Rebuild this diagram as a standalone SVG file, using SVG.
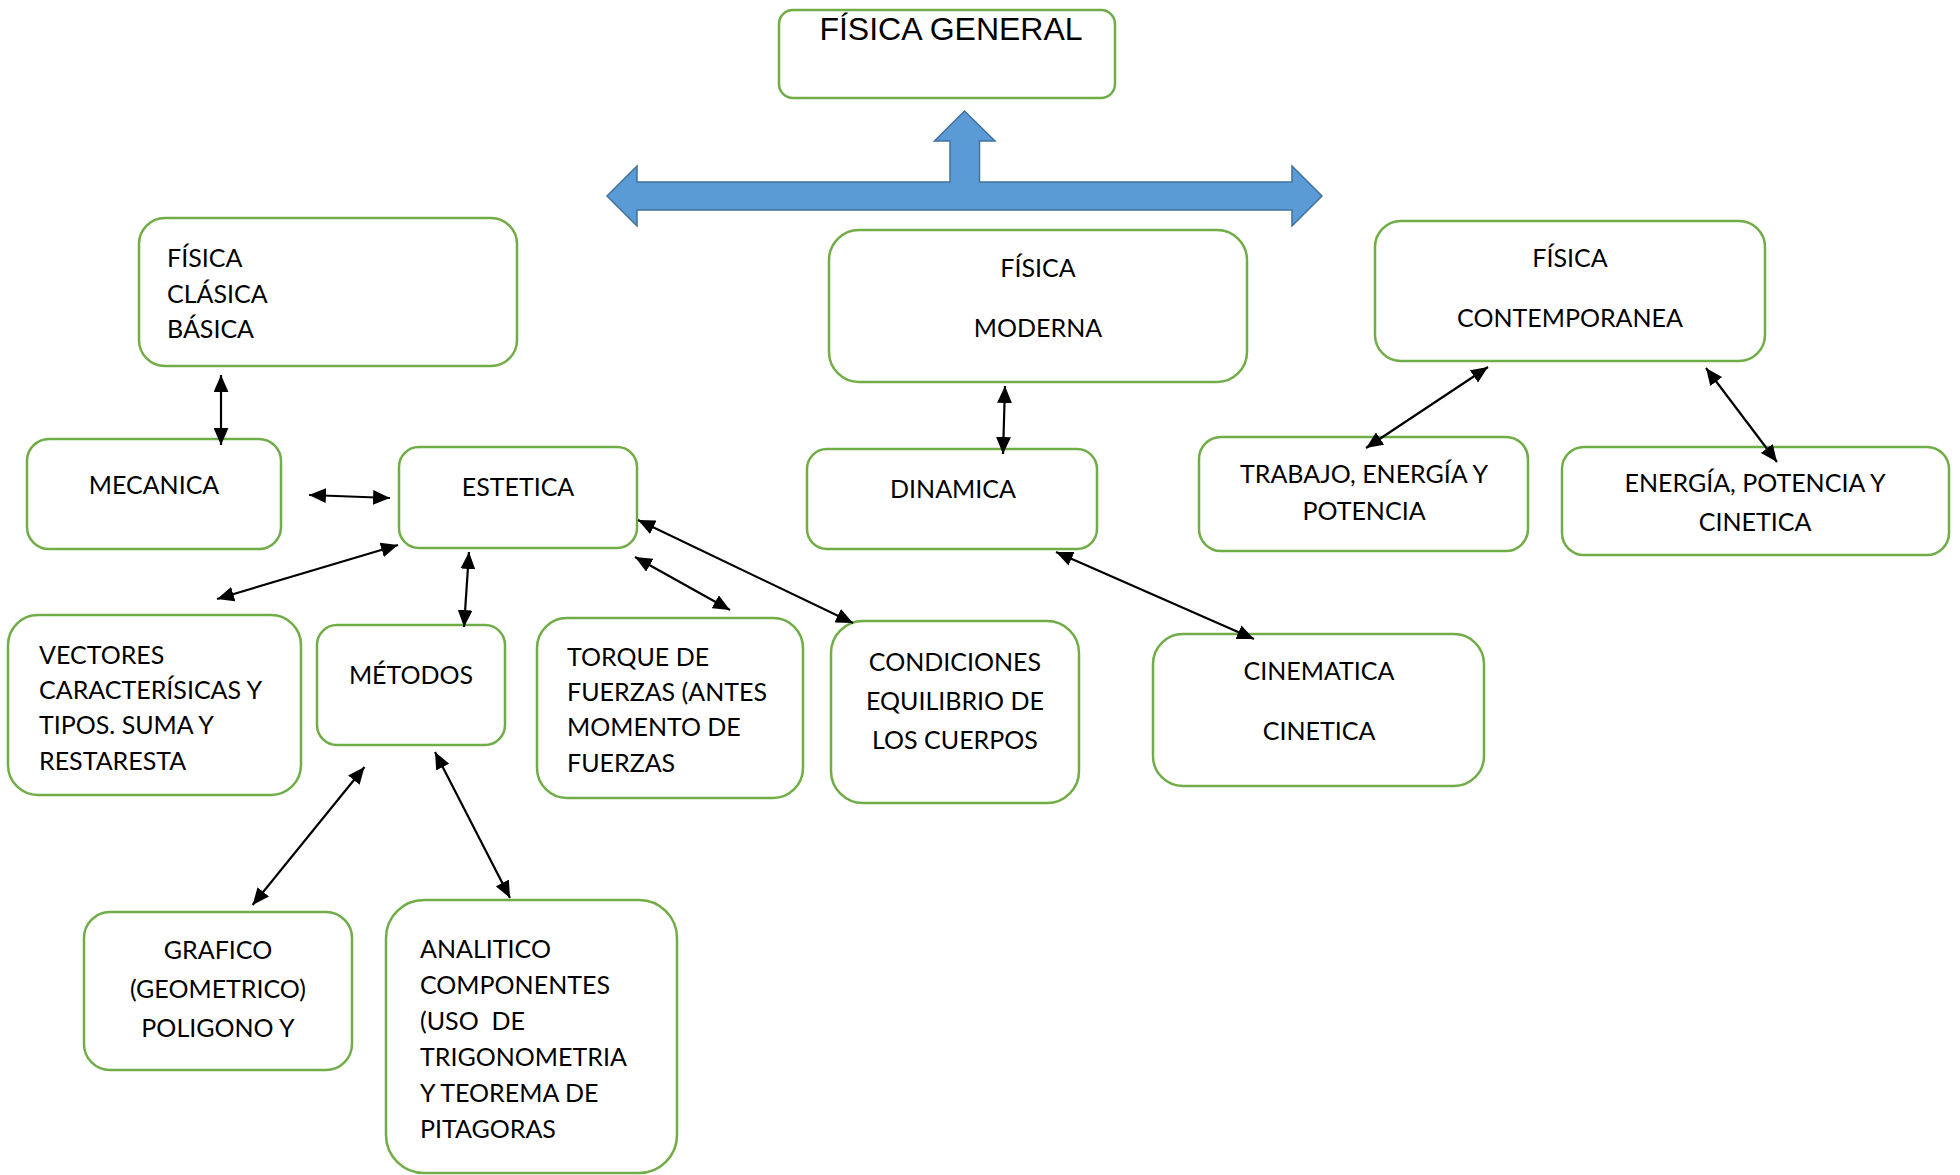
<svg xmlns="http://www.w3.org/2000/svg" width="1960" height="1175" viewBox="0 0 1960 1175">
<style>
.box{fill:#fff;stroke:#70AD47;stroke-width:2.5}
.t{font-family:Lato,"Open Sans","Liberation Sans",sans-serif;font-size:25px;fill:#000}
.m{text-anchor:middle}
.c{stroke:#000;stroke-width:2.2;fill:none;marker-start:url(#ah);marker-end:url(#ah)}
</style>
<defs>
<marker id="ah" markerUnits="userSpaceOnUse" markerWidth="18" markerHeight="15" refX="16" refY="7" orient="auto-start-reverse" viewBox="0 0 17 14">
<path d="M0,0 L16,7 L0,14 z" fill="#000"/>
</marker>
</defs>
<rect width="1960" height="1175" fill="#fff"/>

<g id="fisica-general">
<rect class="box" x="779" y="10" width="336" height="88" rx="14"/>
<text x="951" y="40" text-anchor="middle" font-family="'Liberation Sans',Arial,sans-serif" font-size="32">FÍSICA GENERAL</text>
</g>

<g id="blue-arrow">
<polygon points="607,196 637,166 637,182 950,182 950,141 934.5,141 964.5,111 995,141 979.5,141 979.5,182 1292,182 1292,166 1322,196 1292,226 1292,210 637,210 637,226" fill="#5B9BD5" stroke="#41719C" stroke-width="1.5"/>
</g>

<g id="fisica-clasica">
<rect class="box" x="139" y="218" width="378" height="148" rx="26"/>
<text class="t" x="167" y="267">FÍSICA</text>
<text class="t" x="167" y="303">CLÁSICA</text>
<text class="t" x="167" y="338">BÁSICA</text>
</g>

<g id="mecanica">
<rect class="box" x="27" y="439" width="254" height="110" rx="22"/>
<text class="t m" x="154" y="494">MECANICA</text>
</g>

<g id="estetica">
<rect class="box" x="399" y="447" width="238" height="101" rx="20"/>
<text class="t m" x="518" y="496">ESTETICA</text>
</g>

<g id="vectores">
<rect class="box" x="8" y="615" width="293" height="180" rx="30"/>
<text class="t" x="39" y="664">VECTORES</text>
<text class="t" x="39" y="699">CARACTERÍSICAS Y</text>
<text class="t" x="39" y="734">TIPOS. SUMA Y</text>
<text class="t" x="39" y="770">RESTARESTA</text>
</g>

<g id="metodos">
<rect class="box" x="317" y="625" width="188" height="120" rx="20"/>
<text class="t m" x="411" y="684">MÉTODOS</text>
</g>

<g id="torque">
<rect class="box" x="537" y="618" width="266" height="180" rx="30"/>
<text class="t" x="567" y="666">TORQUE DE</text>
<text class="t" x="567" y="701">FUERZAS (ANTES</text>
<text class="t" x="567" y="736">MOMENTO DE</text>
<text class="t" x="567" y="772">FUERZAS</text>
</g>

<g id="grafico">
<rect class="box" x="84" y="912" width="268" height="158" rx="26"/>
<text class="t m" x="218" y="959">GRAFICO</text>
<text class="t m" x="218" y="998">(GEOMETRICO)</text>
<text class="t m" x="218" y="1037">POLIGONO Y</text>
</g>

<g id="analitico">
<rect class="box" x="386" y="900" width="291" height="273" rx="38"/>
<text class="t" x="420" y="958">ANALITICO</text>
<text class="t" x="420" y="994">COMPONENTES</text>
<text class="t" x="420" y="1030" xml:space="preserve">(USO  DE</text>
<text class="t" x="420" y="1066">TRIGONOMETRIA</text>
<text class="t" x="420" y="1102">Y TEOREMA DE</text>
<text class="t" x="420" y="1138">PITAGORAS</text>
</g>

<g id="fisica-moderna">
<rect class="box" x="829" y="230" width="418" height="152" rx="30"/>
<text class="t m" x="1038" y="277">FÍSICA</text>
<text class="t m" x="1038" y="337">MODERNA</text>
</g>

<g id="dinamica">
<rect class="box" x="807" y="449" width="290" height="100" rx="20"/>
<text class="t m" x="953" y="498">DINAMICA</text>
</g>

<g id="condiciones">
<rect class="box" x="831" y="621" width="248" height="182" rx="32"/>
<text class="t m" x="955" y="671">CONDICIONES</text>
<text class="t m" x="955" y="710">EQUILIBRIO DE</text>
<text class="t m" x="955" y="749">LOS CUERPOS</text>
</g>

<g id="cinematica">
<rect class="box" x="1153" y="634" width="331" height="152" rx="30"/>
<text class="t m" x="1319" y="680">CINEMATICA</text>
<text class="t m" x="1319" y="740">CINETICA</text>
</g>

<g id="fisica-contemporanea">
<rect class="box" x="1375" y="221" width="390" height="140" rx="26"/>
<text class="t m" x="1570" y="267">FÍSICA</text>
<text class="t m" x="1570" y="327">CONTEMPORANEA</text>
</g>

<g id="trabajo">
<rect class="box" x="1199" y="437" width="329" height="114" rx="22"/>
<text class="t m" x="1364" y="483">TRABAJO, ENERGÍA Y</text>
<text class="t m" x="1364" y="520">POTENCIA</text>
</g>

<g id="energia">
<rect class="box" x="1562" y="447" width="387" height="108" rx="22"/>
<text class="t m" x="1755" y="492">ENERGÍA, POTENCIA Y</text>
<text class="t m" x="1755" y="531">CINETICA</text>
</g>

<g id="connectors">
<line class="c" x1="221" y1="375" x2="221" y2="445"/>
<line class="c" x1="309" y1="495" x2="390" y2="498"/>
<line class="c" x1="398" y1="545" x2="217" y2="599"/>
<line class="c" x1="469" y1="552" x2="464" y2="627"/>
<line class="c" x1="635" y1="557" x2="730" y2="610"/>
<line class="c" x1="638" y1="520" x2="853" y2="623"/>
<line class="c" x1="364.5" y1="767" x2="252.6" y2="905"/>
<line class="c" x1="435" y1="752" x2="510" y2="898"/>
<line class="c" x1="1005" y1="386" x2="1003" y2="454"/>
<line class="c" x1="1056" y1="552" x2="1254" y2="639"/>
<line class="c" x1="1488" y1="367" x2="1366" y2="448"/>
<line class="c" x1="1706" y1="368" x2="1777" y2="462"/>
</g>
</svg>
